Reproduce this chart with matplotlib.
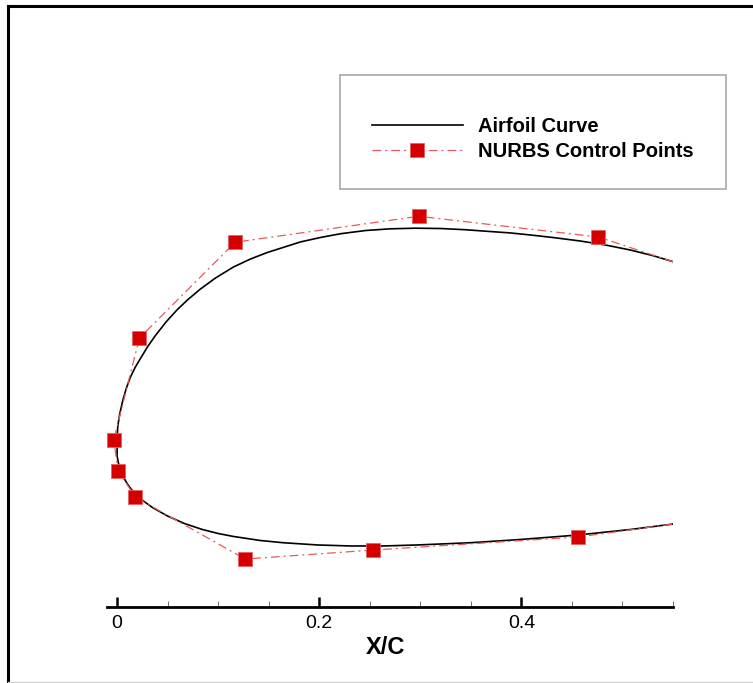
import matplotlib
matplotlib.use('Agg')
import matplotlib.pyplot as plt
from matplotlib.lines import Line2D
from matplotlib.patches import Rectangle

plt.rcParams['font.family'] = ['Liberation Sans', 'DejaVu Sans']

# airfoil contour, upper trailing end -> leading edge -> lower trailing end
curve_x = [0.5501, 0.5296, 0.5079, 0.4831, 0.4584, 0.4337, 0.4089, 0.3891,
           0.3694, 0.3446, 0.3199, 0.2951, 0.2704, 0.2457, 0.2209, 0.2011,
           0.1814, 0.1487, 0.1319, 0.1151, 0.0973, 0.0824, 0.0696, 0.0597,
           0.0488, 0.0379, 0.0300, 0.0231, 0.0181, 0.0132, 0.0092, 0.0057,
           0.0028, 0.0016, 0.0006, 0.0002, 0.0000,
           0.0000, 0.0013, 0.0033, 0.0062, 0.0102, 0.0141, 0.0201, 0.0260,
           0.0349, 0.0498, 0.0666, 0.0844, 0.1002, 0.1151, 0.1418, 0.1645,
           0.1982, 0.2308, 0.2635, 0.2971, 0.3496, 0.3990, 0.4564, 0.5079,
           0.5501]
curve_y = [0.1814, 0.1875, 0.1929, 0.1979, 0.2018, 0.2050, 0.2078, 0.2098,
           0.2112, 0.2130, 0.2142, 0.2145, 0.2139, 0.2122, 0.2090, 0.2053,
           0.2009, 0.1905, 0.1840, 0.1761, 0.1652, 0.1543, 0.1435, 0.1341,
           0.1222, 0.1083, 0.0970, 0.0856, 0.0772, 0.0673, 0.0564, 0.0445,
           0.0317, 0.0247, 0.0178, 0.0089, 0.0000,
           -0.0109, -0.0178, -0.0247, -0.0317, -0.0386, -0.0440, -0.0505,
           -0.0554, -0.0618, -0.0702, -0.0777, -0.0836, -0.0876, -0.0905,
           -0.0945, -0.0967, -0.0989, -0.0999, -0.0999, -0.0989, -0.0967,
           -0.0935, -0.0890, -0.0836, -0.0782]

# control polygon (first and last entries sit on the x = 0.55 boundary)
ctrl_x = [0.5501, 0.4762, 0.2984, 0.1168, 0.0221, -0.0034, 0.0010, 0.0181,
          0.1266, 0.2536, 0.4564, 0.5501]
ctrl_y = [0.1813, 0.2058, 0.2263, 0.2006, 0.1059, 0.0049, -0.0254, -0.0517,
          -0.1128, -0.1039, -0.0910, -0.0782]

W, H = 753, 683
fig = plt.figure(figsize=(W / 100, H / 100), dpi=100)

x0, x1 = 107, 673
ybot, ytop = 607, 60
ax = fig.add_axes([x0 / W, 1 - ybot / H, (x1 - x0) / W, (ybot - ytop) / H])
ax.set_xlim(-0.01, 0.55)
scale = (x1 - x0) / 0.56
ax.set_ylim((445 - ybot) / scale, (445 - ytop) / scale)

red_line = dict(color='#e85a5a', lw=0.9, dashes=(7, 3.2, 1.6, 3.2),
                marker='s', markersize=10, markerfacecolor='#d40000',
                markeredgecolor='#e86060', markeredgewidth=0.6)

ax.plot(curve_x, curve_y, color='black', lw=1.2, label='Airfoil Curve')
ax.plot(ctrl_x, ctrl_y, markevery=slice(1, -1), label='NURBS Control Points',
        **red_line)

for s in ['left', 'right', 'top']:
    ax.spines[s].set_visible(False)
ax.spines['bottom'].set_linewidth(2.0)
ax.set_yticks([])
ax.set_xticks([0, 0.2, 0.4])
ax.set_xticklabels(['0', '0.2', '0.4'])
ax.set_xticks([0.05, 0.1, 0.15, 0.25, 0.3, 0.35, 0.45, 0.5, 0.55], minor=True)
ax.tick_params(axis='x', which='major', direction='in', length=7, width=1.8,
               labelsize=14, pad=6)
ax.tick_params(axis='x', which='minor', direction='in', length=4, width=0.6,
               color='#555555')
ax.set_xlabel('X/C', fontsize=17, fontweight='bold')
ax.xaxis.set_label_coords((385 - x0) / (x1 - x0), -40 / (ybot - ytop))
ax.xaxis.label.set_va('center')

# legend with a separate plain frame
handles = [Line2D([], [], color='black', lw=1.2), Line2D([], [], **red_line)]
fig.legend(handles, ['Airfoil Curve', 'NURBS Control Points'],
           loc='center left', bbox_to_anchor=(372 / W, 1 - 139 / H),
           frameon=False, borderpad=0, borderaxespad=0, handlelength=4.5,
           handletextpad=0.75, labelspacing=0.33,
           prop={'size': 14.5, 'weight': 'bold'})
fig.patches.append(Rectangle((340 / W, 1 - 189 / H), 386 / W, 114 / H,
                             transform=fig.transFigure, fill=False,
                             edgecolor='#a0a0a0', lw=1.1))

# outer frame
fig.lines.append(Line2D([7.5 / W, 7.5 / W], [0, 1 - 6 / H],
                        transform=fig.transFigure, color='black', lw=2.2))
fig.lines.append(Line2D([7.5 / W, 1], [1 - 6 / H, 1 - 6 / H],
                        transform=fig.transFigure, color='black', lw=2.2))
fig.lines.append(Line2D([7.5 / W, 1], [1 - 681.5 / H, 1 - 681.5 / H],
                        transform=fig.transFigure, color='#d0d0d0', lw=1))

fig.savefig('out.png', dpi=100)
